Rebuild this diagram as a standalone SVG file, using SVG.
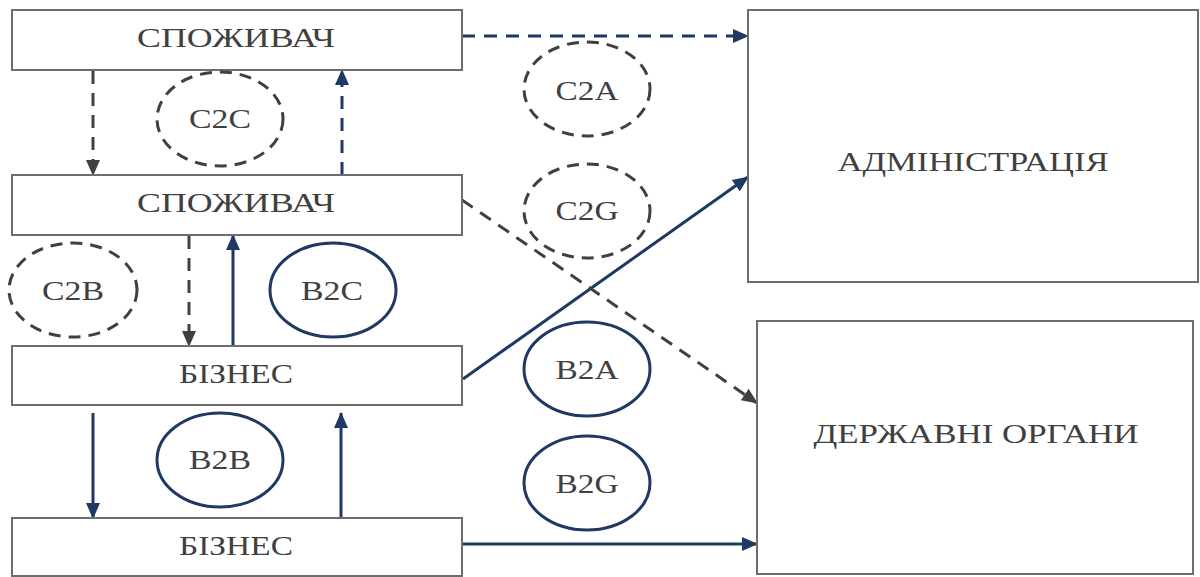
<svg xmlns="http://www.w3.org/2000/svg" width="1200" height="577" viewBox="0 0 1200 577">
<style>
.box{fill:#fff;stroke:#6e6e6e;stroke-width:2}
.lbl{font-family:"Liberation Serif","Times New Roman",serif;font-size:27px;fill:#404040;text-anchor:middle}
.ed{fill:none;stroke:#404040;stroke-width:3;stroke-dasharray:12 8}
.es{fill:none;stroke:#1f3864;stroke-width:3}
.cn{fill:none;stroke:#1f3864;stroke-width:3}
.cnd{fill:none;stroke:#1f3864;stroke-width:3;stroke-dasharray:13 9}
.cgd{fill:none;stroke:#404040;stroke-width:3;stroke-dasharray:13 9}
</style>
<defs>
<marker id="an" markerUnits="userSpaceOnUse" markerWidth="16" markerHeight="14" refX="15" refY="7" orient="auto"><path d="M0,0 L16,7 L0,14 Z" fill="#1f3864"/></marker>
<marker id="ag" markerUnits="userSpaceOnUse" markerWidth="16" markerHeight="14" refX="15" refY="7" orient="auto"><path d="M0,0 L16,7 L0,14 Z" fill="#404040"/></marker>
</defs>
<rect width="1200" height="577" fill="#fff"/>
<g id="connectors">
<line class="cnd" x1="462" y1="36" x2="748" y2="36" marker-end="url(#an)"/>
<line class="cgd" x1="93" y1="71" x2="93" y2="175" marker-end="url(#ag)"/>
<line class="cnd" x1="342" y1="175" x2="342" y2="70" marker-end="url(#an)"/>
<line class="cgd" x1="189" y1="236" x2="189" y2="346" marker-end="url(#ag)"/>
<line class="cn" x1="233" y1="346" x2="233" y2="235" marker-end="url(#an)"/>
<line class="cn" x1="93" y1="413" x2="93" y2="518" marker-end="url(#an)"/>
<line class="cn" x1="341" y1="518" x2="341" y2="413" marker-end="url(#an)"/>
<line class="cn" x1="463" y1="379" x2="748" y2="177" marker-end="url(#an)"/>
<line class="cgd" x1="462" y1="200" x2="757" y2="403" marker-end="url(#ag)"/>
<line class="cn" x1="462" y1="544" x2="757" y2="544" marker-end="url(#an)"/>
</g>
<g id="consumer1"><rect class="box" x="12" y="10" width="450" height="60"/><text class="lbl" x="236" y="47" textLength="198" lengthAdjust="spacingAndGlyphs">СПОЖИВАЧ</text></g>
<g id="consumer2"><rect class="box" x="12" y="175" width="450" height="60"/><text class="lbl" x="236" y="212" textLength="198" lengthAdjust="spacingAndGlyphs">СПОЖИВАЧ</text></g>
<g id="business1"><rect class="box" x="12" y="346" width="450" height="59"/><text class="lbl" x="236" y="383" textLength="114" lengthAdjust="spacingAndGlyphs">БІЗНЕС</text></g>
<g id="business2"><rect class="box" x="12" y="518" width="450" height="58"/><text class="lbl" x="236" y="555" textLength="114" lengthAdjust="spacingAndGlyphs">БІЗНЕС</text></g>
<g id="admin"><rect class="box" x="748" y="10" width="450" height="272"/><text class="lbl" x="973" y="171" textLength="271" lengthAdjust="spacingAndGlyphs">АДМІНІСТРАЦІЯ</text></g>
<g id="gov"><rect class="box" x="757" y="321" width="436" height="253"/><text class="lbl" x="976" y="443" textLength="325" lengthAdjust="spacingAndGlyphs">ДЕРЖАВНІ ОРГАНИ</text></g>
<g id="c2c"><ellipse class="ed" cx="220" cy="119" rx="63" ry="47"/><text class="lbl" x="220" y="128" textLength="62" lengthAdjust="spacingAndGlyphs">C2C</text></g>
<g id="c2b"><ellipse class="ed" cx="73" cy="290" rx="64" ry="47"/><text class="lbl" x="73" y="300" textLength="62" lengthAdjust="spacingAndGlyphs">C2B</text></g>
<g id="b2c"><ellipse class="es" cx="333" cy="290" rx="63" ry="47"/><text class="lbl" x="332" y="300" textLength="62" lengthAdjust="spacingAndGlyphs">B2C</text></g>
<g id="b2b"><ellipse class="es" cx="220" cy="460" rx="63" ry="47"/><text class="lbl" x="220" y="469" textLength="62" lengthAdjust="spacingAndGlyphs">B2B</text></g>
<g id="c2a"><ellipse class="ed" cx="587" cy="89" rx="63" ry="47"/><text class="lbl" x="587" y="100" textLength="63" lengthAdjust="spacingAndGlyphs">C2A</text></g>
<g id="c2g"><ellipse class="ed" cx="587" cy="211" rx="63" ry="47"/><text class="lbl" x="587" y="220" textLength="63" lengthAdjust="spacingAndGlyphs">C2G</text></g>
<g id="b2a"><ellipse class="es" cx="587" cy="369" rx="63" ry="47"/><text class="lbl" x="587" y="379" textLength="63" lengthAdjust="spacingAndGlyphs">B2A</text></g>
<g id="b2g"><ellipse class="es" cx="587" cy="483" rx="63" ry="47"/><text class="lbl" x="587" y="493" textLength="63" lengthAdjust="spacingAndGlyphs">B2G</text></g>
</svg>
